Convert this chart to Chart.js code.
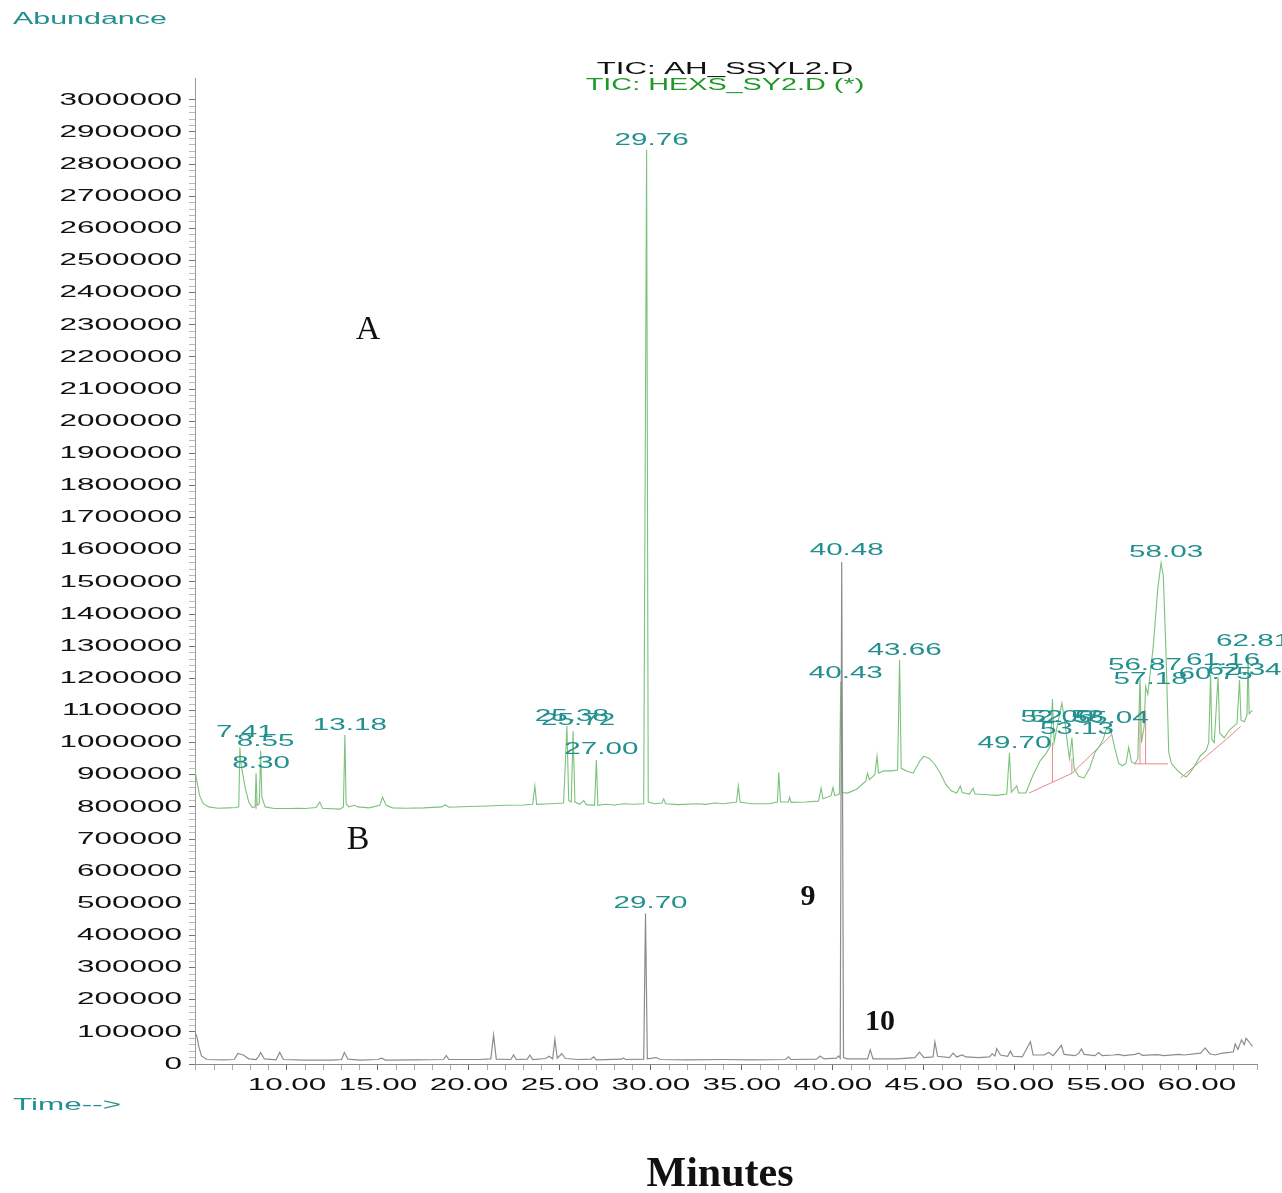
<!DOCTYPE html>
<html>
<head>
<meta charset="utf-8">
<title>TIC overlay</title>
<script src="https://cdn.jsdelivr.net/npm/chart.js@4.4.0/dist/chart.umd.min.js"></script>
<style>
body { margin: 0; background: #fff; }
#wrap { position: relative; width: 1282px; height: 1193px; }
</style>
</head>
<body>
<div id="wrap"><canvas id="tic"></canvas></div>
<script>
// chromatogram A (green, HEXS_SY2.D) : [minutes, abundance]
var greenTrace = [
	[4.95,910000],[5.05,880000],[5.2,835000],[5.4,810000],[5.7,800000],[6.2,796000],[6.8,797000],
	[7.2,798000],[7.35,800000],[7.41,985000],[7.48,930000],[7.7,860000],[7.9,815000],[8.1,798000],
	[8.25,800000],[8.30,905000],[8.36,805000],[8.48,810000],[8.55,975000],[8.62,830000],[8.8,800000],
	[9.3,795000],[10.0,795000],[10.7,796000],[11.0,795000],[11.6,798000],[11.8,815000],[11.95,796000],
	[12.9,793000],[13.1,800000],[13.18,1024000],[13.25,810000],[13.4,800000],[13.7,805000],[13.9,800000],
	[14.5,797000],[15.1,805000],[15.25,830000],[15.45,805000],[15.8,797000],[16.5,796000],[17.5,797000],
	[18.5,800000],[18.7,806000],[18.9,799000],[20.0,801000],[21.0,803000],[22.0,805000],[23.0,806000],
	[23.5,808000],[23.62,865000],[23.72,808000],[24.5,810000],[25.2,812000],[25.38,1052000],[25.48,820000],
	[25.62,815000],[25.72,1035000],[25.82,815000],[26.1,808000],[26.3,820000],[26.45,807000],[26.9,805000],
	[27.00,946000],[27.08,805000],[27.5,808000],[28.0,806000],[28.5,810000],[29.0,808000],[29.6,810000],
	[29.76,2845000],[29.85,815000],[30.2,810000],[30.6,812000],[30.7,825000],[30.8,810000],[31.5,807000],
	[32.5,810000],[33.0,808000],[33.5,812000],[34.0,810000],[34.7,815000],[34.8,865000],[34.9,815000],
	[35.5,810000],[36.5,810000],[36.95,815000],[37.02,908000],[37.12,815000],[37.55,815000],[37.62,830000],
	[37.7,814000],[38.5,815000],[39.2,818000],[39.35,858000],[39.45,825000],[39.9,835000],[40.0,860000],
	[40.1,835000],[40.35,840000],[40.43,1190000],[40.5,845000],[40.8,843000],[41.3,855000],[41.8,880000],
	[41.9,905000],[42.0,885000],[42.3,900000],[42.42,958000],[42.5,905000],[42.8,912000],[43.2,912000],
	[43.55,915000],[43.66,1257000],[43.75,920000],[44.1,910000],[44.4,905000],[44.8,945000],[45.0,958000],
	[45.3,950000],[45.6,932000],[45.9,905000],[46.2,870000],[46.5,850000],[46.8,843000],[47.0,865000],
	[47.1,845000],[47.5,840000],[47.7,858000],[47.8,840000],[48.5,838000],[49.0,836000],[49.55,840000],
	[49.70,968000],[49.8,845000],[50.1,865000],[50.2,843000],[50.6,843000],[51.0,900000],[51.4,945000],
	[51.7,965000],[51.95,990000],[52.06,1136000],[52.15,1000000],[52.35,1060000],[52.58,1123000],
	[52.75,1060000],[52.9,990000],[53.0,950000],[53.13,1015000],[53.25,920000],[53.5,895000],[53.8,890000],
	[54.1,920000],[54.4,970000],[54.6,985000],[54.85,1010000],[55.04,1045000],[55.3,1030000],[55.5,980000],
	[55.7,935000],[55.9,928000],[56.1,935000],[56.25,985000],[56.4,940000],[56.6,935000],[56.75,950000],
	[56.87,1204000],[56.95,1000000],[57.1,1050000],[57.18,1175000],[57.3,1150000],[57.6,1300000],
	[57.85,1480000],[58.03,1559000],[58.15,1520000],[58.3,1280000],[58.45,970000],[58.6,935000],
	[58.9,915000],[59.2,900000],[59.4,893000],[59.6,905000],[59.9,930000],[60.2,960000],[60.5,975000],
	[60.65,1000000],[60.75,1210000],[60.82,1010000],[60.95,1000000],[61.16,1205000],[61.25,1030000],
	[61.5,1015000],[61.8,1040000],[62.0,1050000],[62.2,1060000],[62.34,1195000],[62.42,1070000],
	[62.6,1065000],[62.75,1085000],[62.81,1275000],[62.87,1090000],[63.05,1100000]
];

// chromatogram B (grey, AH_SSYL2.D)
var greyTrace = [
	[4.95,98000],[5.05,85000],[5.15,55000],[5.3,25000],[5.6,14000],[6.5,13000],[7.1,14000],[7.3,33000],
	[7.6,28000],[7.9,16000],[8.3,14000],[8.45,24000],[8.55,36000],[8.75,16000],[9.4,13000],[9.6,36000],
	[9.8,14000],[11.0,12000],[12.5,12000],[13.0,14000],[13.15,36000],[13.35,15000],[14.0,12000],
	[15.0,14000],[15.2,18000],[15.4,12000],[17.0,13000],[18.6,14000],[18.75,26000],[18.9,14000],
	[20.5,14000],[21.2,16000],[21.35,90000],[21.5,15000],[22.3,14000],[22.45,28000],[22.6,14000],
	[23.2,15000],[23.35,28000],[23.5,14000],[24.2,17000],[24.4,24000],[24.6,16000],[24.72,77000],
	[24.85,18000],[25.1,32000],[25.3,17000],[26.0,14000],[26.7,15000],[26.85,22000],[27.0,13000],
	[28.4,15000],[28.5,19000],[28.6,14000],[29.6,15000],[29.70,468000],[29.8,16000],[30.3,20000],
	[30.5,14000],[32.0,13000],[34.0,14000],[35.5,13000],[37.4,14000],[37.55,22000],[37.7,14000],
	[39.1,15000],[39.3,25000],[39.5,16000],[40.2,18000],[40.3,25000],[40.4,18000],[40.48,1562000],
	[40.58,20000],[40.8,16000],[41.9,16000],[42.05,44000],[42.2,16000],[43.5,16000],[44.5,20000],
	[44.75,37000],[45.0,20000],[45.5,22000],[45.6,69000],[45.75,24000],[46.4,20000],[46.6,34000],
	[46.8,22000],[47.1,28000],[47.3,22000],[48.0,20000],[48.6,22000],[48.75,32000],[48.9,25000],
	[49.0,48000],[49.2,28000],[49.6,24000],[49.75,40000],[49.9,24000],[50.4,22000],[50.85,69000],
	[51.0,28000],[51.6,28000],[51.85,36000],[52.1,26000],[52.55,58000],[52.7,30000],[53.3,26000],
	[53.5,33000],[53.65,47000],[53.8,30000],[54.4,26000],[54.6,36000],[54.8,26000],[55.4,28000],
	[55.7,30000],[56.0,26000],[56.6,30000],[56.8,34000],[57.0,27000],[57.8,29000],[58.2,26000],
	[59.0,30000],[59.3,28000],[60.2,34000],[60.45,50000],[60.7,32000],[61.0,28000],[61.4,34000],
	[61.8,36000],[62.0,38000],[62.1,62000],[62.25,45000],[62.45,75000],[62.6,60000],[62.7,80000],
	[62.85,70000],[63.05,55000]
];

// integration baselines drawn by the data system (pink)
var baselineSegments = [
	[[8.30,793000],[8.30,830000]],
	[[50.77,843000],[53.15,905000],[55.3,1024000]],
	[[52.06,877000],[52.06,1000000]],
	[[53.13,905000],[53.13,950000]],
	[[56.55,934000],[58.4,934000]],
	[[56.87,934000],[56.87,1150000]],
	[[57.18,934000],[57.18,1100000]],
	[[59.1,890000],[61.4,1000000],[62.4,1050000]]
];

// peak labels: retention time and the abundance where the label sits
var greenPeakTimes = [7.41,8.30,8.55,13.18,25.38,25.72,27.00,29.76,40.43,43.66,49.70,52.06,52.58,53.13,55.04,56.87,57.18,58.03,60.75,61.16,62.34,62.81];
var greenPeakLabelAt = [1030000,934000,1002000,1052000,1080000,1070000,977000,2872000,1214000,1285000,996000,1077000,1077000,1039000,1074000,1239000,1195000,1590000,1211000,1254000,1223000,1313000];
var greyPeakTimes = [29.70,40.48];
var greyPeakLabelAt = [498000,1597000];

// axis ticks
var yTop = 3000000;
var yTickStep = 20000;
var yLabelStep = 100000;
var xLabelEvery = 5;

var yTickValues = [];
for (var tv = 0; tv <= yTop; tv += yTickStep) yTickValues.push(tv);

var teal = '#22908f';
var wide = 1.85; // the instrument printout uses horizontally stretched sans type

function toPoints(arr) {
	var out = [];
	for (var i in arr) out.push({x: arr[i][0], y: arr[i][1]});
	return out;
}

function segmentPoints(segs) {
	var out = [];
	for (var i = 0; i < segs.length; i++) {
		for (var j = 0; j < segs[i].length; j++) out.push({x: segs[i][j][0], y: segs[i][j][1]});
		out.push({x: segs[i][segs[i].length - 1][0] + 0.01, y: null});
	}
	return out;
}

function isLabelled(v) {
	var r = Math.round(v);
	return r % yLabelStep === 0 && r <= yTop;
}

function say(ctx, s, x, y, font, color, align, stretch) {
	wide = stretch;
	ctx.save();
	ctx.font = font;
	ctx.fillStyle = color;
	ctx.textAlign = align;
	ctx.textBaseline = 'middle';
	ctx.fillText(s, x, y);
	ctx.restore();
	wide = 1.85;
}

var stretchText = {
	id: 'stretchText',
	beforeDraw: function(chart) {
		var ctx = chart.ctx;
		if (ctx._stretched) return;
		var orig = ctx.fillText;
		ctx.fillText = function(t, x, y, m) {
			if (wide === 1) return orig.call(this, t, x, y);
			this.save();
			this.translate(x, y);
			this.scale(wide, 1);
			orig.call(this, t, 0, 0);
			this.restore();
		};
		ctx._stretched = true;
	}
};

var annotations = {
	id: 'annotations',
	afterDraw: function(chart) {
		var ctx = chart.ctx;
		var xs = chart.scales.x, ys = chart.scales.y;
		var sans = '16px "Liberation Sans", Arial, sans-serif';

		for (var i = 0; i < greenPeakTimes.length; i++) {
			say(ctx, greenPeakTimes[i].toFixed(2), xs.getPixelForValue(greenPeakTimes[i]) + 5,
				ys.getPixelForValue(greenPeakLabelAt[i]), sans, teal, 'center', 1.85);
		}
		for (var k = 0; k < greyPeakTimes.length; k++) {
			say(ctx, greyPeakTimes[k].toFixed(2), xs.getPixelForValue(greyPeakTimes[k]) + 5,
				ys.getPixelForValue(greyPeakLabelAt[k]), sans, teal, 'center', 1.85);
		}

		say(ctx, 'Abundance', 13, 20, '16px "Liberation Sans", Arial, sans-serif', teal, 'left', 1.9);
		say(ctx, 'Time-->', 13, 1105, '17px "Liberation Sans", Arial, sans-serif', teal, 'left', 1.85);
		say(ctx, 'TIC: AH_SSYL2.D', 725, 70, '16px "Liberation Sans", Arial, sans-serif', '#111', 'center', 1.95);
		say(ctx, 'TIC: HEXS_SY2.D (*)', 725, 86, '16px "Liberation Sans", Arial, sans-serif', '#1f9a2a', 'center', 1.8);

		say(ctx, 'A', 368, 330, '34px "Liberation Serif", "Times New Roman", serif', '#111', 'center', 1);
		say(ctx, 'B', 358, 840, '34px "Liberation Serif", "Times New Roman", serif', '#111', 'center', 1);
		say(ctx, '9', 808, 897, 'bold 30px "Liberation Serif", "Times New Roman", serif', '#111', 'center', 1);
		say(ctx, '10', 880, 1022, 'bold 30px "Liberation Serif", "Times New Roman", serif', '#111', 'center', 1);
		say(ctx, 'Minutes', 720, 1175, 'bold 42px "Liberation Serif", "Times New Roman", serif', '#111', 'center', 1);
	}
};

var ctx = document.getElementById('tic');

var ticChart = new Chart(ctx, {
	type: 'line',
	data: {
		datasets: [
			{
				label: 'TIC: AH_SSYL2.D',
				data: toPoints(greyTrace),
				borderColor: '#8c8c8c',
				borderWidth: 1.2
			},
			{
				label: 'TIC: HEXS_SY2.D (*)',
				data: toPoints(greenTrace),
				borderColor: '#7cc27a',
				borderWidth: 1.1
			},
			{
				label: 'baseline',
				data: segmentPoints(baselineSegments),
				borderColor: '#e58a8a',
				borderWidth: 1,
				spanGaps: false
			}
		]
	},
	options: {
		responsive: true,
		maintainAspectRatio: false,
		animation: false,
		elements: { point: { radius: 0 }, line: { tension: 0 } },
		layout: { padding: { top: 78, right: 25, left: 0, bottom: 0 } },
		plugins: {
			legend: { display: false },
			title: { display: false },
			tooltip: { enabled: false }
		},
		scales: {
			x: {
				type: 'linear',
				min: 4.945,
				max: 63.3,
				afterFit: function(scale) { scale.height = 129; },
				border: { display: true, color: '#8a8a8a', width: 1 },
				grid: {
					drawOnChartArea: false,
					tickLength: 6,
					tickColor: function(c) { return c.tick && c.tick.value % xLabelEvery === 0 ? '#666' : '#aaa'; }
				},
				ticks: {
					stepSize: 1,
					autoSkip: false,
					maxRotation: 0,
					padding: 5,
					color: '#111',
					font: { family: '"Liberation Sans", Arial, sans-serif', size: 17 },
					callback: function(v) { return (v >= 10 && v % xLabelEvery === 0) ? v.toFixed(2) : ''; }
				}
			},
			y: {
				min: 0,
				max: 3068000,
				afterFit: function(scale) { scale.width = 195; },
				afterBuildTicks: function(scale) {
					scale.ticks = yTickValues.map(function(v) { return {value: v}; });
				},
				border: { display: true, color: '#9a9a9a', width: 1 },
				grid: {
					drawOnChartArea: false,
					tickLength: 6,
					tickColor: function(c) { return c.tick && isLabelled(c.tick.value) ? '#777' : '#bbb'; }
				},
				ticks: {
					autoSkip: false,
					padding: 7,
					color: '#111',
					font: { family: '"Liberation Sans", Arial, sans-serif', size: 17 },
					callback: function(v) { return isLabelled(v) ? String(Math.round(v)) : ''; }
				}
			}
		}
	},
	plugins: [stretchText, annotations]
});
</script>
</body>
</html>
